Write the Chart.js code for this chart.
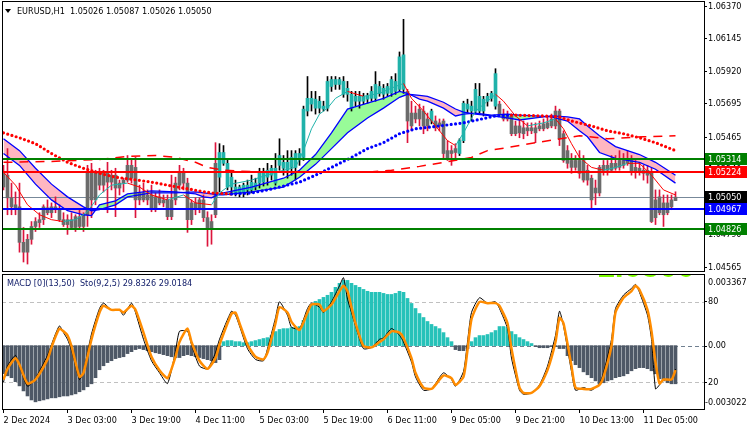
<!DOCTYPE html>
<html>
<head>
<meta charset="utf-8">
<script src="https://cdn.jsdelivr.net/npm/chart.js@4.4.1/dist/chart.umd.min.js"></script>
<style>
  body { margin: 0; background: #fff; width: 750px; height: 430px; overflow: hidden; position: relative; }
  canvas { position: absolute; left: 0; }
  #main { top: 0; }
  #sub { top: 273px; }
</style>
</head>
<body>
<canvas id="main" width="750" height="274"></canvas>
<canvas id="sub" width="750" height="157"></canvas>
<script>
// ---- data (EURUSD H1) ----
const candleOpen = [
  1.05215,1.05202,1.05045,1.04997,1.04983,1.04737,1.04669,1.04758,1.04847,1.04874,
  1.04894,1.04976,1.04942,1.04983,1.04963,1.04894,1.04860,1.04894,1.04840,1.04915,
  1.04847,1.04928,1.05222,1.05031,1.05215,1.05133,1.05215,1.05154,1.05202,1.05113,
  1.05147,1.05168,1.05270,1.05256,1.05031,1.05079,1.05031,1.05065,1.04963,1.05052,
  1.05010,1.05031,1.04915,1.05031,1.05133,1.05215,1.05147,1.04894,1.05010,1.04963,
  1.05031,1.04908,1.04826,1.04928,1.05188,1.05359,1.05284,1.05188,1.05120,1.05079,
  1.05086,1.05100,1.05100,1.05120,1.05147,1.05154,1.05188,1.05202,1.05147,1.05270,
  1.05250,1.05236,1.05256,1.05256,1.05318,1.05325,1.05646,1.05694,1.05666,1.05666,
  1.05659,1.05666,1.05816,1.05830,1.05830,1.05851,1.05803,1.05666,1.05714,1.05714,
  1.05714,1.05728,1.05734,1.05734,1.05769,1.05762,1.05769,1.05769,1.05782,1.05796,
  1.06035,1.05782,1.05543,1.05632,1.05591,1.05646,1.05543,1.05577,1.05577,1.05543,
  1.05577,1.05372,1.05352,1.05359,1.05352,1.05441,1.05659,1.05646,1.05646,1.05646,
  1.05646,1.05714,1.05734,1.05680,1.05694,1.05625,1.05612,1.05612,1.05543,1.05543,
  1.05530,1.05530,1.05530,1.05530,1.05543,1.05557,1.05564,1.05591,1.05543,1.05646,
  1.05489,1.05372,1.05304,1.05304,1.05304,1.05304,1.05236,1.05181,1.05113,1.05079,
  1.05270,1.05270,1.05284,1.05284,1.05304,1.05304,1.05318,1.05304,1.05256,1.05250,
  1.05236,1.05236,1.05215,1.05031,1.05052,1.05010,1.05010,1.05031,1.05026];
const candleHigh = [
  1.05270,1.05386,1.05147,1.05086,1.05147,1.04840,1.04792,1.04881,1.04908,1.04942,
  1.04997,1.05031,1.05010,1.05052,1.04997,1.04942,1.04928,1.04942,1.04928,1.04963,
  1.04942,1.05270,1.05284,1.05236,1.05250,1.05236,1.05291,1.05236,1.05250,1.05168,
  1.05181,1.05338,1.05318,1.05325,1.05133,1.05147,1.05100,1.05133,1.05079,1.05100,
  1.05065,1.05065,1.05202,1.05188,1.05270,1.05250,1.05181,1.05031,1.05045,1.05045,
  1.05065,1.04949,1.04928,1.05427,1.05420,1.05407,1.05318,1.05222,1.05168,1.05133,
  1.05147,1.05168,1.05202,1.05181,1.05250,1.05250,1.05284,1.05270,1.05352,1.05454,
  1.05338,1.05372,1.05372,1.05372,1.05386,1.05680,1.05885,1.05782,1.05782,1.05748,
  1.05714,1.05885,1.05885,1.05885,1.05878,1.05885,1.05851,1.05782,1.05782,1.05782,
  1.05769,1.05769,1.05816,1.05919,1.05851,1.05830,1.05837,1.05885,1.05905,1.06055,
  1.06281,1.05796,1.05714,1.05680,1.05694,1.05680,1.05632,1.05659,1.05612,1.05591,
  1.05591,1.05441,1.05407,1.05420,1.05454,1.05714,1.05728,1.05714,1.05837,1.05837,
  1.05748,1.05769,1.05782,1.05939,1.05714,1.05659,1.05646,1.05625,1.05577,1.05591,
  1.05577,1.05564,1.05564,1.05564,1.05577,1.05591,1.05612,1.05625,1.05680,1.05659,
  1.05509,1.05407,1.05352,1.05338,1.05372,1.05338,1.05270,1.05202,1.05168,1.05270,
  1.05304,1.05304,1.05338,1.05338,1.05372,1.05352,1.05372,1.05338,1.05304,1.05291,
  1.05270,1.05270,1.05250,1.05100,1.05100,1.05065,1.05065,1.05065,1.05087];
const candleLow = [
  1.05100,1.04928,1.04928,1.04928,1.04669,1.04601,1.04587,1.04724,1.04812,1.04840,
  1.04860,1.04928,1.04908,1.04942,1.04881,1.04847,1.04792,1.04826,1.04812,1.04826,
  1.04812,1.04847,1.04908,1.04997,1.05100,1.05086,1.04942,1.05100,1.04915,1.05065,
  1.05086,1.05154,1.05147,1.04908,1.04997,1.05017,1.04997,1.04949,1.04949,1.04997,
  1.04983,1.04894,1.04894,1.04997,1.05100,1.05100,1.04806,1.04860,1.04928,1.04942,
  1.04881,1.04710,1.04724,1.04908,1.05086,1.05270,1.05100,1.05065,1.05058,1.05052,
  1.05052,1.05065,1.05079,1.05100,1.05113,1.05127,1.05133,1.05168,1.05133,1.05236,
  1.05202,1.05181,1.05202,1.05168,1.05270,1.05304,1.05612,1.05646,1.05625,1.05632,
  1.05646,1.05646,1.05782,1.05796,1.05796,1.05741,1.05714,1.05646,1.05680,1.05666,
  1.05694,1.05700,1.05714,1.05714,1.05748,1.05728,1.05748,1.05748,1.05762,1.05782,
  1.05769,1.05427,1.05509,1.05564,1.05543,1.05489,1.05509,1.05557,1.05509,1.05509,
  1.05318,1.05304,1.05270,1.05318,1.05338,1.05427,1.05632,1.05577,1.05632,1.05632,
  1.05612,1.05680,1.05714,1.05659,1.05612,1.05577,1.05577,1.05475,1.05475,1.05461,
  1.05454,1.05475,1.05489,1.05427,1.05509,1.05509,1.05523,1.05530,1.05523,1.05407,
  1.05291,1.05250,1.05215,1.05236,1.05181,1.05154,1.05133,1.04976,1.04997,1.05058,
  1.05202,1.05202,1.05222,1.05236,1.05236,1.05250,1.05270,1.05202,1.05181,1.05202,
  1.05168,1.05147,1.04874,1.04860,1.04928,1.04847,1.04928,1.04963,1.05026];
const candleClose = [
  1.05120,1.05045,1.04983,1.04976,1.04737,1.04669,1.04758,1.04847,1.04881,1.04894,
  1.04983,1.04942,1.04983,1.04963,1.04894,1.04860,1.04894,1.04840,1.04915,1.04847,
  1.04928,1.05222,1.05031,1.05222,1.05133,1.05215,1.05154,1.05202,1.05113,1.05147,
  1.05168,1.05270,1.05181,1.05031,1.05079,1.05031,1.05065,1.04963,1.05052,1.05010,
  1.05031,1.04915,1.05031,1.05147,1.05215,1.05147,1.04894,1.05010,1.04963,1.05031,
  1.04908,1.04826,1.04881,1.05284,1.05359,1.05284,1.05120,1.05120,1.05079,1.05120,
  1.05133,1.05133,1.05154,1.05147,1.05215,1.05222,1.05236,1.05250,1.05250,1.05338,
  1.05291,1.05291,1.05325,1.05352,1.05352,1.05659,1.05734,1.05734,1.05728,1.05714,
  1.05680,1.05851,1.05864,1.05864,1.05864,1.05762,1.05762,1.05762,1.05748,1.05748,
  1.05748,1.05748,1.05782,1.05830,1.05816,1.05803,1.05816,1.05864,1.05851,1.06021,
  1.05796,1.05577,1.05632,1.05591,1.05659,1.05543,1.05591,1.05646,1.05530,1.05564,
  1.05352,1.05318,1.05372,1.05386,1.05441,1.05700,1.05694,1.05680,1.05796,1.05748,
  1.05728,1.05748,1.05769,1.05905,1.05625,1.05591,1.05591,1.05489,1.05489,1.05495,
  1.05489,1.05509,1.05509,1.05495,1.05523,1.05523,1.05530,1.05543,1.05646,1.05454,
  1.05304,1.05284,1.05256,1.05256,1.05215,1.05168,1.05168,1.05031,1.05079,1.05256,
  1.05236,1.05236,1.05236,1.05250,1.05256,1.05270,1.05284,1.05222,1.05222,1.05222,
  1.05215,1.05202,1.04881,1.04908,1.04942,1.04928,1.04942,1.04983,1.05050];
// bars painted in the "up" colour
const bullRanges = [[54, 100], [107, 107], [114, 123]];

// two-colour dotted MA
const dotBars = [0,4,8,12,16,20,24,28,32,37,41,45,49,52,57,62,66,70,74,78,82,87,91,95,99,103,107,115,123,127,131,135,139,142,147,151,155,159,163,168];
const dotVals = [1.05495,1.05461,1.05420,1.05352,1.05291,1.05250,1.05215,1.05188,1.05174,1.05154,1.05133,1.05113,1.05093,1.05079,1.05072,1.05079,1.05100,1.05127,1.05154,1.05202,1.05256,1.05325,1.05386,1.05427,1.05489,1.05523,1.05536,1.05564,1.05612,1.05618,1.05615,1.05612,1.05605,1.05577,1.05543,1.05509,1.05489,1.05461,1.05427,1.05372];

// ribbon between a fast and a slow MA
const bandBars = [0,4,8,12,16,20,22,24,28,31,37,43,48,50,52,54,55,62,70,74,78,82,86,91,95,99,101,104,106,110,113,115,118,122,126,129,133,137,141,144,146,149,153,156,159,163,168];
const bandSlow = [1.05454,1.05372,1.05250,1.05140,1.05052,1.04983,1.04956,1.04963,1.04997,1.05052,1.05079,1.05079,1.05086,1.05079,1.05072,1.05065,1.05065,1.05086,1.05120,1.05188,1.05277,1.05386,1.05495,1.05598,1.05666,1.05741,1.05762,1.05755,1.05748,1.05707,1.05660,1.05639,1.05625,1.05612,1.05598,1.05584,1.05598,1.05612,1.05605,1.05591,1.05543,1.05475,1.05400,1.05372,1.05345,1.05291,1.05202];
const bandFast = [1.05352,1.05270,1.05140,1.05031,1.04956,1.04928,1.04922,1.04997,1.05024,1.05072,1.05093,1.05086,1.05072,1.05052,1.05045,1.05072,1.05079,1.05120,1.05181,1.05236,1.05345,1.05495,1.05659,1.05700,1.05734,1.05782,1.05769,1.05728,1.05714,1.05666,1.05612,1.05625,1.05632,1.05618,1.05625,1.05618,1.05612,1.05605,1.05577,1.05509,1.05468,1.05359,1.05318,1.05304,1.05291,1.05243,1.05147];

// thin two-colour MA
const thinBars = [0,3,6,9,12,15,18,21,24,27,31,34,37,41,45,48,52,54,57,62,68,73,75,77,79,81,83,86,90,94,98,100,102,105,108,111,113,115,118,121,123,125,128,131,135,138,140,142,144,147,150,153,156,159,162,165,168];
const thinVals = [1.05222,1.05133,1.04997,1.04928,1.04894,1.04881,1.04894,1.04949,1.05065,1.05133,1.05147,1.05120,1.05065,1.05031,1.05065,1.05010,1.04997,1.05079,1.05140,1.05168,1.05222,1.05256,1.05372,1.05523,1.05625,1.05666,1.05734,1.05782,1.05748,1.05769,1.05816,1.05837,1.05734,1.05646,1.05543,1.05441,1.05407,1.05495,1.05646,1.05714,1.05762,1.05714,1.05612,1.05543,1.05564,1.05591,1.05523,1.05420,1.05325,1.05256,1.05236,1.05256,1.05284,1.05284,1.05202,1.05100,1.05065];

// dashed red MA
const dashBars = [0,12,24,31,38,43,48,51,55,65,80,90,97,104,110,117,121,126,133,144,151,160,168];
const dashVals = [1.05291,1.05297,1.05311,1.05332,1.05338,1.05325,1.05291,1.05256,1.05236,1.05222,1.05222,1.05222,1.05236,1.05263,1.05291,1.05325,1.05372,1.05393,1.05427,1.05475,1.05454,1.05468,1.05475];

// horizontal levels and current price
const levelPrices = [1.05314, 1.05224, 1.04967, 1.04826];
const bidPrice = 1.05050;
const priceTicks = [1.06370, 1.06145, 1.05920, 1.05695, 1.05465, 1.05240, 1.05015, 1.04790, 1.04565];

// MACD histogram
const macdHist = [
  -0.00134,-0.00144,-0.00153,-0.00172,-0.00192,-0.00216,-0.00240,-0.00259,-0.00268,-0.00263,
  -0.00259,-0.00254,-0.00249,-0.00249,-0.00244,-0.00240,-0.00240,-0.00235,-0.00230,-0.00220,
  -0.00211,-0.00196,-0.00182,-0.00153,-0.00115,-0.00096,-0.00081,-0.00072,-0.00062,-0.00057,
  -0.00053,-0.00038,-0.00029,-0.00019,-0.00014,-0.00019,-0.00024,-0.00029,-0.00034,-0.00038,
  -0.00043,-0.00048,-0.00053,-0.00057,-0.00057,-0.00048,-0.00043,-0.00048,-0.00053,-0.00057,
  -0.00062,-0.00067,-0.00072,-0.00081,-0.00067, 0.00019, 0.00024, 0.00024, 0.00019, 0.00019,
   0.00014, 0.00014, 0.00019, 0.00024, 0.00029, 0.00034, 0.00038, 0.00048, 0.00067, 0.00077,
   0.00081, 0.00081, 0.00086, 0.00086, 0.00091, 0.00120, 0.00158, 0.00192, 0.00211, 0.00220,
   0.00230, 0.00240, 0.00254, 0.00278, 0.00297, 0.00311, 0.00311, 0.00297, 0.00287, 0.00278,
   0.00268, 0.00259, 0.00254, 0.00254, 0.00254, 0.00249, 0.00244, 0.00244, 0.00249, 0.00259,
   0.00254, 0.00225, 0.00201, 0.00177, 0.00153, 0.00134, 0.00115, 0.00101, 0.00091, 0.00081,
   0.00062, 0.00038, 0.00019,-0.00019,-0.00024,-0.00024,-0.00014, 0.00019, 0.00038, 0.00048,
   0.00048, 0.00053, 0.00062, 0.00072, 0.00091, 0.00091, 0.00086, 0.00067, 0.00053, 0.00038,
   0.00029, 0.00019, 0.00010,-0.00005,-0.00010,-0.00010,-0.00010,-0.00005,-0.00005,-0.00014,
  -0.00014,-0.00048,-0.00072,-0.00091,-0.00105,-0.00125,-0.00139,-0.00153,-0.00168,-0.00182,
  -0.00177,-0.00168,-0.00163,-0.00153,-0.00148,-0.00144,-0.00134,-0.00120,-0.00110,-0.00105,
  -0.00105,-0.00110,-0.00120,-0.00134,-0.00158,-0.00168,-0.00177,-0.00182,-0.00182];
const macdMax = 0.003367, macdMin = -0.003022;

// Stochastic (main = black, signal = orange)
const stochBars = [0,1,3,4,6,8,11,12,13,14,15,16,17,19,20,22,24,25,27,29,30,32,33,35,37,39,41,43,44,46,47,49,51,53,54,57,58,59,61,63,65,66,68,69,71,72,74,76,77,79,80,82,84,85,86,87,88,90,92,94,95,97,99,100,102,103,105,107,108,110,112,113,115,116,117,119,121,123,124,126,127,129,130,132,134,136,138,139,140,142,143,145,147,149,150,152,153,155,157,158,159,161,162,163,164,165,167,168];
const stochSignal = [22,30,38,33,19,22,37,46,54,60,58,55,47,24,27,52,72,77,74,74,72,77,74,57,39,29,23,39,50,60,50,36,30,38,48,71,72,64,48,39,37,42,64,76,72,65,59,72,78,78,73,78,88,92,88,76,64,47,46,50,52,58,57,53,38,27,16,15,18,25,23,18,24,44,67,80,79,79,77,64,45,16,12,12,17,29,50,68,64,32,16,15,15,18,24,47,72,83,88,92,89,74,58,35,19,22,22,29.0184];
const stochMain = [20,32,40,32,17,23,40,48,56,62,57,52,44,22,28,56,75,79,74,74,70,79,72,52,36,27,19,43,58,58,48,32,30,42,52,73,70,62,45,37,36,45,68,80,70,61,60,75,79,76,72,80,92,98,82,72,62,45,46,52,53,60,55,50,35,24,14,15,19,27,22,17,28,50,72,83,79,80,75,60,38,14,11,12,18,32,55,73,62,28,14,16,14,19,27,52,75,85,90,93,87,70,52,15,18,22,22,29.8326];

// time axis
const xTickBars = [0, 16, 32, 48, 64, 80, 96, 112, 128, 144, 160];
const xTickLabels = ['2 Dec 2024', '3 Dec 03:00', '3 Dec 19:00', '4 Dec 11:00', '5 Dec 03:00', '5 Dec 19:00',
                     '6 Dec 11:00', '9 Dec 05:00', '9 Dec 21:00', '10 Dec 13:00', '11 Dec 05:00'];

// ---- styling ----
const FONT = '"DejaVu Sans Condensed", "Liberation Sans", sans-serif';
const TXT = '9px ' + FONT;
const levelColors = ['#008000', '#ff0000', '#0000ff', '#008000'];
const X_MIN = -0.375, X_MAX = 175.125;   // 4 px per bar, chart shift on the right
const Y_MIN = 1.045318, Y_MAX = 1.064077;

const isBull = i => bullRanges.some(r => i >= r[0] && i <= r[1]);
const pts = (xs, ys) => xs.map((x, k) => ({x: x, y: ys[k]}));
const idx = candleClose.map((_, i) => i);
const last = candleClose.length - 1;
const noPad = s => { s.paddingTop = 0; s.paddingBottom = 0; s.paddingLeft = 0; s.paddingRight = 0; };

const xScale = {
  type: 'linear', min: X_MIN, max: X_MAX, offset: false,
  grid: {offset: false, display: false}, display: false
};

const mainDecor = {
  id: 'mainDecor',
  beforeDatasetsDraw(chart) {
    const {ctx, chartArea: a, scales: {y}} = chart;
    const py = Math.round(y.getPixelForValue(bidPrice)) + 0.5;
    ctx.save();
    ctx.strokeStyle = '#778899';
    ctx.lineWidth = 1;
    ctx.beginPath(); ctx.moveTo(a.left, py); ctx.lineTo(a.right, py); ctx.stroke();
    ctx.restore();
  },
  afterDatasetsDraw(chart) {
    const {ctx, chartArea: a, scales: {y}} = chart;
    ctx.save();
    ctx.lineWidth = 2;
    levelPrices.forEach((p, k) => {
      const py = Math.round(y.getPixelForValue(p));
      ctx.strokeStyle = levelColors[k];
      ctx.beginPath(); ctx.moveTo(a.left, py); ctx.lineTo(a.right, py); ctx.stroke();
    });
    ctx.restore();
  },
  afterDraw(chart) {
    const {ctx, chartArea: a, scales: {y}} = chart;
    ctx.save();
    // frame
    ctx.strokeStyle = '#000';
    ctx.lineWidth = 1;
    ctx.strokeRect(a.left + 0.5, a.top + 0.5, a.right - a.left, a.bottom - a.top - 1);
    // price boxes on the axis
    const boxes = levelPrices.map((p, k) => [p, levelColors[k]]).concat([[bidPrice, '#000']]);
    ctx.font = TXT;
    ctx.textBaseline = 'middle';
    boxes.forEach(([p, c]) => {
      const py = Math.round(y.getPixelForValue(p));
      ctx.fillStyle = c;
      ctx.fillRect(a.right + 1, py - 6, 42, 12);
      ctx.fillStyle = '#fff';
      ctx.fillText(p.toFixed(5), a.right + 4, py + 0.5);
    });
    // header
    ctx.fillStyle = '#000';
    ctx.beginPath(); ctx.moveTo(5, 9); ctx.lineTo(11, 9); ctx.lineTo(8, 13); ctx.closePath(); ctx.fill();
    const ohlc = [candleOpen[last], candleHigh[last], candleLow[last], candleClose[last]];
    ctx.fillText('EURUSD,H1  ' + ohlc.map(v => v.toFixed(5)).join(' '), 17, 11.5);
    ctx.restore();
  }
};

new Chart(document.getElementById('main'), {
  data: {
    datasets: [
      { // wicks
        type: 'bar', order: 20, grouped: false, barThickness: 1,
        data: idx.map(i => ({x: i, y: [candleLow[i], candleHigh[i]]})),
        backgroundColor: c => isBull(c.dataIndex) ? '#000000' : '#dc143c'
      },
      { // bodies
        type: 'bar', order: 19, grouped: false, barThickness: 3, minBarLength: 1,
        data: idx.map(i => ({x: i, y: [candleOpen[i], candleClose[i]]})),
        backgroundColor: c => isBull(c.dataIndex) ? '#20b2aa' : '#6b6b6b'
      },
      { // ribbon fast edge (index 2)
        type: 'line', order: 10, data: pts(bandBars, bandFast),
        borderColor: '#0000ff', borderWidth: 1.3, pointRadius: 0, fill: false
      },
      { // ribbon slow edge, filled to the fast edge
        type: 'line', order: 10, data: pts(bandBars, bandSlow),
        borderColor: '#0000ff', borderWidth: 1.3, pointRadius: 0,
        fill: {target: 2, above: '#ffb6c1', below: '#98fb98'}
      },
      { // dashed MA
        type: 'line', order: 4, data: pts(dashBars, dashVals),
        borderColor: '#ff0000', borderWidth: 1.5, borderDash: [9, 7], pointRadius: 0, fill: false
      },
      { // dotted MA, blue when rising, red when falling
        type: 'line', order: 3, data: pts(dotBars, dotVals),
        borderColor: '#ff0000', borderWidth: 3.2, borderDash: [0, 4.4], borderCapStyle: 'round',
        pointRadius: 0, fill: false,
        segment: {borderColor: c => c.p1.parsed.y > c.p0.parsed.y ? '#0000ff' : '#ff0000'}
      },
      { // thin MA, teal when rising, red when falling
        type: 'line', order: 2, data: pts(thinBars, thinVals),
        borderColor: '#ff0000', borderWidth: 1, pointRadius: 0, fill: false,
        segment: {borderColor: c => c.p1.parsed.y > c.p0.parsed.y ? '#20b2aa' : '#ff0000'}
      }
    ]
  },
  options: {
    responsive: false, animation: false, events: [],
    layout: {padding: {left: 2, top: 1, right: 0, bottom: 2}},
    plugins: {legend: {display: false}, tooltip: {enabled: false}, filler: {drawTime: 'beforeDatasetsDraw'}},
    scales: {
      x: xScale,
      y: {
        position: 'right', min: Y_MIN, max: Y_MAX,
        afterFit: s => { s.width = 46; noPad(s); },
        afterBuildTicks: s => { s.ticks = priceTicks.map(v => ({value: v})); },
        ticks: {callback: v => v.toFixed(5), font: {family: FONT, size: 9}, color: '#000', padding: 1, autoSkip: false},
        grid: {drawOnChartArea: false, tickLength: 3, color: '#000'},
        border: {display: false}
      }
    }
  },
  plugins: [mainDecor]
});

const subDecor = {
  id: 'subDecor',
  beforeDatasetsDraw(chart) {
    const {ctx, chartArea: a, scales: {sto, macd}} = chart;
    ctx.save();
    ctx.lineWidth = 1;
    ctx.setLineDash([4, 3]);
    ctx.strokeStyle = '#c0c0c0';
    [80, 20].forEach(v => {
      const py = Math.round(sto.getPixelForValue(v)) + 0.5;
      ctx.beginPath(); ctx.moveTo(a.left, py); ctx.lineTo(a.right, py); ctx.stroke();
    });
    ctx.strokeStyle = '#708090';
    const pz = Math.round(macd.getPixelForValue(0)) + 0.5;
    ctx.beginPath(); ctx.moveTo(a.left, pz); ctx.lineTo(a.right, pz); ctx.stroke();
    ctx.restore();
  },
  afterDraw(chart) {
    const {ctx, chartArea: a, scales: {macd}} = chart;
    ctx.save();
    // big lime label, almost entirely hidden above the window
    ctx.beginPath(); ctx.rect(a.left, a.top - 1, a.right - a.left, 4); ctx.clip();
    ctx.fillStyle = '#7cfc00';
    ctx.font = 'bold 32px "Liberation Sans", sans-serif';
    ctx.textBaseline = 'alphabetic';
    ctx.fillText('1.0500', 597, a.top + 2);
    ctx.restore();

    ctx.save();
    ctx.strokeStyle = '#000';
    ctx.lineWidth = 1;
    ctx.strokeRect(a.left + 0.5, a.top - 0.5, a.right - a.left, a.bottom - a.top + 1);
    ctx.font = TXT;
    ctx.fillStyle = '#000';
    ctx.textBaseline = 'middle';
    ctx.fillText(macdMax.toFixed(6), a.right + 4, a.top + 8);
    const pz = macd.getPixelForValue(0);
    ctx.beginPath(); ctx.moveTo(a.right, Math.round(pz) + 0.5); ctx.lineTo(a.right + 3, Math.round(pz) + 0.5); ctx.stroke();
    ctx.fillText('0.00', a.right + 4, pz + 0.5);
    ctx.fillText(macdMin.toFixed(6), a.right + 1, a.bottom - 6);
    ctx.fillStyle = '#14206b';
    ctx.fillText('MACD [0](13,50)  Sto(9,2,5) ' + stochMain[stochMain.length - 1].toFixed(4) + ' ' +
                 stochSignal[stochSignal.length - 1].toFixed(4), 7, a.top + 9);
    ctx.restore();
  }
};

new Chart(document.getElementById('sub'), {
  data: {
    datasets: [
      {
        type: 'bar', order: 10, yAxisID: 'macd', grouped: false, barThickness: 3,
        data: macdHist.map((v, i) => ({x: i, y: v})),
        backgroundColor: c => c.raw.y >= 0 ? '#26c2b9' : '#4e5866'
      },
      {
        type: 'line', order: 1, yAxisID: 'sto', data: pts(stochBars, stochSignal),
        borderColor: '#ff8c00', borderWidth: 2.5, pointRadius: 0, tension: 0.2, fill: false
      },
      {
        type: 'line', order: 2, yAxisID: 'sto', data: pts(stochBars, stochMain),
        borderColor: '#000000', borderWidth: 1, pointRadius: 0, tension: 0.2, fill: false
      }
    ]
  },
  options: {
    responsive: false, animation: false, events: [],
    layout: {padding: {left: 2, top: 2, right: 0, bottom: 0}},
    plugins: {legend: {display: false}, tooltip: {enabled: false}},
    scales: {
      x: {
        type: 'linear', min: X_MIN, max: X_MAX, offset: false, position: 'bottom',
        afterFit: s => { s.height = 21; noPad(s); },
        afterBuildTicks: s => { s.ticks = xTickBars.map(v => ({value: v})); },
        ticks: {
          callback: v => xTickLabels[xTickBars.indexOf(v)],
          align: 'start', maxRotation: 0, autoSkip: false,
          font: {family: FONT, size: 9}, color: '#000', padding: 2
        },
        grid: {offset: false, drawOnChartArea: false, tickLength: 4, color: '#000'},
        border: {display: false}
      },
      sto: {
        position: 'right', min: 0, max: 100,
        afterFit: s => { s.width = 46; noPad(s); },
        afterBuildTicks: s => { s.ticks = [{value: 80}, {value: 20}]; },
        ticks: {font: {family: FONT, size: 9}, color: '#000', padding: 1},
        grid: {drawOnChartArea: false, tickLength: 3, color: '#000'},
        border: {display: false}
      },
      macd: {display: false, min: macdMin, max: macdMax}
    }
  },
  plugins: [subDecor]
});
</script>
</body>
</html>
